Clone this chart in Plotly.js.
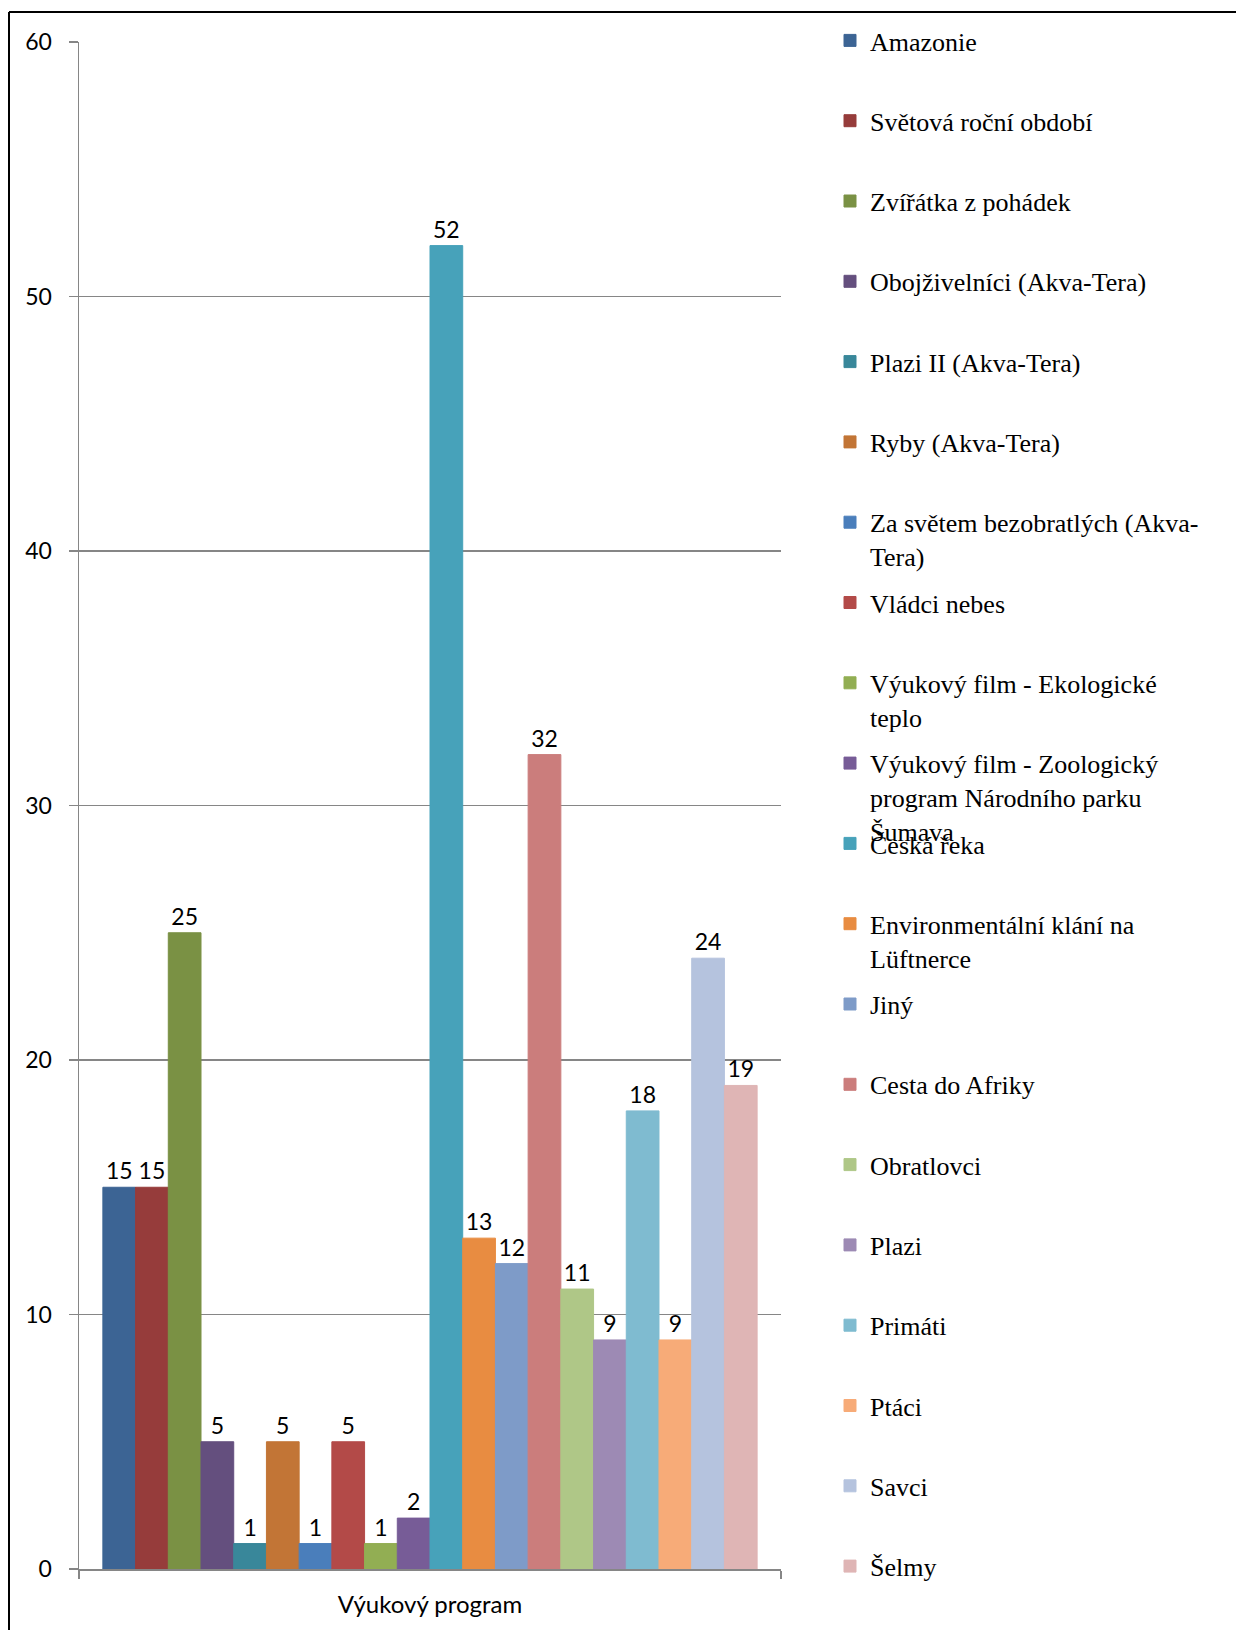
<!DOCTYPE html>
<html>
<head>
<meta charset="utf-8">
<script src="https://cdn.plot.ly/plotly-3.0.1.min.js"></script>
<style>html,body{margin:0;padding:0;background:#fff;}#chart{width:1236px;height:1630px;}</style>
</head>
<body>
<div id="chart"></div>
<script>
const category = "Výukový program";
const seriesNames = [
  "Amazonie",
  "Světová roční období",
  "Zvířátka z pohádek",
  "Obojživelníci (Akva-Tera)",
  "Plazi II (Akva-Tera)",
  "Ryby (Akva-Tera)",
  "Za světem bezobratlých (Akva-<br>Tera)",
  "Vládci nebes",
  "Výukový film - Ekologické<br>teplo",
  "Výukový film - Zoologický<br>program Národního parku<br>Šumava",
  "Česká řeka",
  "Environmentální klání na<br>Lüftnerce",
  "Jiný",
  "Cesta do Afriky",
  "Obratlovci",
  "Plazi",
  "Primáti",
  "Ptáci",
  "Savci",
  "Šelmy"
];
const seriesValues = [15, 15, 25, 5, 1, 5, 1, 5, 1, 2, 52, 13, 12, 32, 11, 9, 18, 9, 24, 19];
const seriesColors = [
  "#3C6494", "#963C3B", "#7A9144", "#644F7E", "#39879A", "#C27536",
  "#4A7EBB", "#B34A48", "#92AE53", "#775C97", "#47A2BA", "#E88C41",
  "#7E9BC8", "#CB7D7C", "#AFC787", "#9D8AB4", "#7FBBD0", "#F7AB78",
  "#B5C3DE", "#DFB5B5"
];
const yTicks = [0, 10, 20, 30, 40, 50, 60];

// geometry (pixels)
const W = 1236, H = 1630;
const PL = 79, PR = 781, PT = 42, PB = 1569;
const pw = PR - PL, ph = PB - PT;
const px2x = p => (p - PL) / pw;
const py2y = p => (PB - p) / ph;

const labelFont = {family: "Lato, 'Open Sans', sans-serif", size: 23, color: "#000"};
const xLabelFont = {family: "Lato, 'Open Sans', sans-serif", size: 24, color: "#000"};
const legendFont = {family: "'Liberation Serif', 'Times New Roman', serif", size: 26, color: "#000"};

const traces = seriesNames.map((name, i) => ({
  type: "bar",
  name: name,
  x: [category],
  y: [seriesValues[i]],
  marker: {color: seriesColors[i], line: {width: 1, color: seriesColors[i]}},
  text: [String(seriesValues[i])],
  textposition: "outside",
  textfont: labelFont,
  cliponaxis: false,
  hoverinfo: "none",
  legend: i === 0 ? "legend" : "legend" + (i + 1)
}));

const layout = {
  width: W, height: H,
  margin: {l: PL, r: W - PR, t: PT, b: H - PB, pad: 0},
  paper_bgcolor: "#fff",
  plot_bgcolor: "#fff",
  barmode: "group",
  bargap: 0.068,
  bargroupgap: 0,
  showlegend: true,
  xaxis: {
    type: "category",
    tickson: "boundaries",
    ticks: "outside",
    ticklen: 8,
    tickcolor: "#868686",
    tickwidth: 1.5,
    showline: true,
    linecolor: "#868686",
    linewidth: 1.5,
    showgrid: false,
    tickfont: xLabelFont,
    ticklabelstandoff: 14,
    fixedrange: true
  },
  yaxis: {
    range: [0, 60],
    tickvals: yTicks,
    ticktext: yTicks.map(String),
    ticks: "outside",
    ticklen: 9,
    tickcolor: "#868686",
    tickwidth: 1.5,
    showline: true,
    linecolor: "#868686",
    linewidth: 1.5,
    showgrid: true,
    gridcolor: "#868686",
    gridwidth: 1.5,
    zeroline: false,
    tickfont: labelFont,
    ticklabelstandoff: 12,
    fixedrange: true
  },
  shapes: [
    {type: "line", xref: "paper", yref: "paper", x0: px2x(9), x1: px2x(1240), y0: py2y(12), y1: py2y(12), line: {color: "#000", width: 2}},
    {type: "line", xref: "paper", yref: "paper", x0: px2x(9), x1: px2x(9), y0: py2y(12), y1: py2y(1640), line: {color: "#000", width: 2}}
  ]
};

const legendTop0 = 41, legendStep = 80.3;
seriesNames.forEach((n, i) => {
  const key = i === 0 ? "legend" : "legend" + (i + 1);
  layout[key] = {
    x: px2x(830),
    y: py2y(legendTop0 + i * legendStep - 24),
    xanchor: "left",
    yanchor: "top",
    bgcolor: "rgba(0,0,0,0)",
    borderwidth: 0,
    font: legendFont,
    valign: "top",
    itemclick: false,
    itemdoubleclick: false
  };
});

Plotly.newPlot("chart", traces, layout, {displayModeBar: false, staticPlot: true});
</script>
</body>
</html>
